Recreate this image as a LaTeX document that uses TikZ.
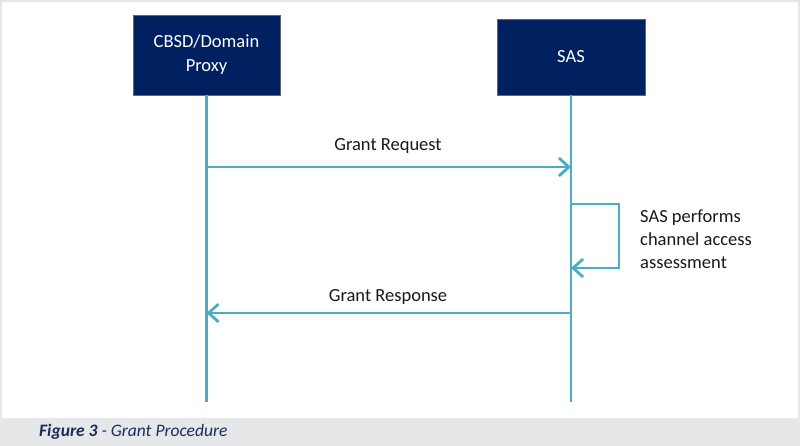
\documentclass[tikz,border=0pt]{standalone}
\usepackage{fontspec}
\setmainfont{Carlito}
\usetikzlibrary{arrows.meta,positioning}
\definecolor{boxnavy}{HTML}{002060}
\definecolor{msgteal}{HTML}{4BACC6}
\definecolor{capnavy}{HTML}{1E2B5E}
\definecolor{bandgray}{HTML}{E6E7E9}
\tikzset{
	entity/.style = {rectangle, draw=black!60, fill=boxnavy, text=white, align=center, inner sep=0pt, font=\fontsize{18.5}{24}\selectfont},
	lifeline/.style = {draw=msgteal, line width=2.8pt},
	msg/.style = {lifeline, -{Straight Barb[length=10pt,width=18pt,line width=2.8pt]}},
	msglabel/.style = {inner sep=0pt, text=black!90, font=\fontsize{18.5}{23}\selectfont}
}
\begin{document}
\begin{tikzpicture}[x=1pt,y=-1pt]
% frame and caption band
\fill[bandgray] (0,0) rectangle (800,446);
\fill[white] (2,2) rectangle (798,418);
\useasboundingbox (0,0) rectangle (800,446);

% participants
\node [entity, minimum width=147pt, minimum height=80pt] (cbsd) at (206.5,55) {CBSD/Domain\\Proxy};
\node [entity, minimum width=148pt, minimum height=76pt] (sas) at (571,57) {SAS};

% lifelines
\coordinate (cbsd end) at (cbsd.south |- 0,402);
\coordinate (sas end) at (sas.south |- 0,402);
\draw [lifeline] (cbsd.south) -- (cbsd end);
\draw [lifeline] (sas.south) -- (sas end);

% grant request
\coordinate (req src) at (cbsd.south |- 0,167);
\coordinate (req dst) at (sas.south |- 0,167);
\draw [msg] (req src) -- (req dst);
\node [msglabel] (req label) at (388,146) {Grant Request};

% channel access assessment
\coordinate (loop src) at (sas.south |- 0,204);
\coordinate (loop dst) at (sas.south |- 0,268);
\draw [msg] (loop src) -- ++(48,0) |- (loop dst);
\node [msglabel, align=left, anchor=west] (assess) at (640,239) {SAS performs\\channel access\\assessment};

% grant response
\coordinate (resp src) at (sas.south |- 0,313);
\coordinate (resp dst) at (cbsd.south |- 0,313);
\draw [msg] (resp src) -- (resp dst);
\node [msglabel] (resp label) at (388,297) {Grant Response};

% caption
\node [anchor=west, inner sep=0pt, text=capnavy, font=\fontsize{17.5}{20}\selectfont\itshape] (caption) at (39,432) {\textbf{Figure 3} - Grant Procedure};
\end{tikzpicture}
\end{document}
